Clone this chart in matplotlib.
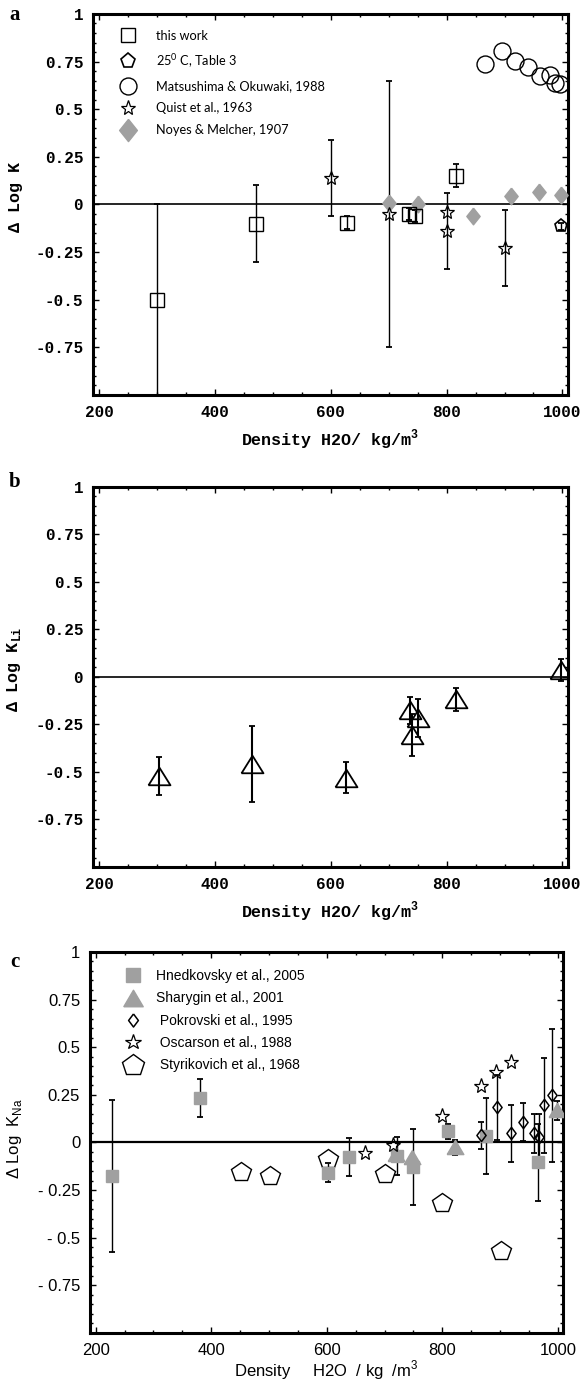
import numpy as np
import matplotlib
matplotlib.use("Agg")
import matplotlib.pyplot as plt
from matplotlib.lines import Line2D
from matplotlib.ticker import MultipleLocator

plt.rcParams['mathtext.fontset'] = 'custom'
plt.rcParams['mathtext.rm'] = 'Lato'
plt.rcParams['mathtext.tt'] = 'Liberation Mono:bold'
plt.rcParams['mathtext.sf'] = 'Liberation Sans'

# ---- panel a : delta log K ----
work_x = [300, 471, 628, 735, 746, 817]
work_y = [-0.50, -0.10, -0.095, -0.05, -0.06, 0.15]
work_lo = [0.6, 0.2, 0.035, 0.03, 0.03, 0.06]
work_hi = [0.5, 0.2, 0.035, 0.03, 0.03, 0.06]

t3_x = [997]
t3_y = [-0.115]
t3_err = [0.02]

mats_x = [867, 895, 918, 940, 961, 978, 987, 996]
mats_y = [0.735, 0.805, 0.755, 0.72, 0.675, 0.68, 0.64, 0.63]

quist_x = [600, 700, 800, 800, 900]
quist_y = [0.14, -0.05, -0.04, -0.14, -0.23]
quist_err = [0.2, 0.7, 0.0, 0.2, 0.2]

noyes_x = [700, 751, 845, 912, 959, 997]
noyes_y = [0.01, 0.0, -0.063, 0.047, 0.068, 0.052]

# ---- panel b : delta log K_Li ----
li_x = [303, 463, 626, 737, 741, 751, 817, 997]
li_y = [-0.52, -0.458, -0.53, -0.175, -0.305, -0.215, -0.118, 0.038]
li_err = [0.1, 0.2, 0.08, 0.07, 0.11, 0.1, 0.06, 0.057]

# ---- panel c : delta log K_Na ----
hned_x = [228, 381, 602, 638, 722, 749, 810, 875, 966]
hned_y = [-0.175, 0.235, -0.16, -0.075, -0.07, -0.13, 0.058, 0.035, -0.105]
hned_err = [0.4, 0.1, 0.05, 0.1, 0.1, 0.2, 0.04, 0.2, 0.2]

shar_x = [720, 747, 822, 999]
shar_y = [-0.06, -0.075, -0.025, 0.17]
shar_err = [0.0, 0.0, 0.04, 0.05]

pok_x = [867, 894, 919, 940, 959, 968, 977, 990]
pok_y = [0.037, 0.184, 0.047, 0.107, 0.047, 0.028, 0.195, 0.247]
pok_err = [0.07, 0.17, 0.15, 0.1, 0.1, 0.12, 0.25, 0.35]

osc_x = [667, 714, 800, 867, 893, 919]
osc_y = [-0.056, -0.016, 0.137, 0.295, 0.37, 0.42]

sty_x = [452, 501, 602, 700, 800, 901]
sty_y = [-0.156, -0.174, -0.085, -0.165, -0.32, -0.57]

xticks = [200, 400, 600, 800, 1000]
yticks = [1, 0.75, 0.5, 0.25, 0, -0.25, -0.5, -0.75]
ylabels_ab = ['1', '0.75', '0.5', '0.25', '0', '-0.25', '-0.5', '-0.75']
ylabels_c = ['1', '0.75', '0.5', '0.25', '0', '- 0.25', '- 0.5', '- 0.75']

GRAY = '#a0a0a0'
MONO = 'Liberation Mono'
SANS = 'Liberation Sans'

tri_b = [(-1, -0.8), (1, -0.8), (0, 0.8), (-1, -0.8)]
tri_c = [(-1, -0.85), (1, -0.85), (0, 0.85), (-1, -0.85)]
dia_a = [(0, 1), (0.8, 0), (0, -1), (-0.8, 0), (0, 1)]
dia_c = [(0, 1), (0.75, 0), (0, -1), (-0.75, 0), (0, 1)]


def frame(ax, xlim, ylabels, family, weight, size, zlw=1.2):
    ax.set_xlim(*xlim)
    ax.set_ylim(-1, 1)
    ax.set_xticks(xticks)
    ax.set_xticklabels([str(v) for v in xticks], family=family, weight=weight, size=size)
    ax.set_yticks(yticks)
    ax.set_yticklabels(ylabels, family=family, weight=weight, size=size)
    ax.xaxis.set_minor_locator(MultipleLocator(50))
    ax.yaxis.set_minor_locator(MultipleLocator(0.05))
    ax.tick_params(which='both', direction='in', top=True, right=True, width=1)
    ax.tick_params(which='major', length=4, pad=7)
    ax.tick_params(which='minor', length=2)
    for s in ax.spines.values():
        s.set_linewidth(2.2)
    ax.axhline(0, color='k', lw=zlw, zorder=1)


def bars(ax, x, y, lo, hi, lw=1.0):
    x = np.asarray(x, float)
    y = np.asarray(y, float)
    lo = np.asarray(lo, float)
    hi = np.asarray(hi, float)
    m = (lo + hi) > 0
    ax.errorbar(x[m], y[m], yerr=[lo[m], hi[m]], fmt='none', ecolor='k',
                elinewidth=lw, capsize=2, capthick=1.3, zorder=2)


fig = plt.figure(figsize=(5.84, 13.83), dpi=100)

# ---------------- a ----------------
ax = fig.add_axes([0.159, 0.7144, 0.814, 0.2755])
frame(ax, (189, 1010), ylabels_ab, MONO, 'bold', 11.5)
bars(ax, work_x, work_y, work_lo, work_hi)
bars(ax, quist_x, quist_y, quist_err, quist_err)
bars(ax, t3_x, t3_y, t3_err, t3_err)
ax.plot(noyes_x, noyes_y, ls='none', marker=dia_a, ms=12, mfc=GRAY, mec=GRAY, zorder=3)
ax.plot(work_x, work_y, ls='none', marker='s', ms=9.4, mfc='none', mec='k', mew=1, zorder=4)
ax.plot(t3_x, t3_y, ls='none', marker='p', ms=9.5, mfc='none', mec='k', mew=1.2, zorder=4)
ax.plot(mats_x, mats_y, ls='none', marker='o', ms=12.2, mfc='none', mec='k', mew=1, zorder=4)
ax.plot(quist_x, quist_y, ls='none', marker='*', ms=10.4, mfc='none', mec='k', mew=0.9, zorder=4)
ax.set_ylabel('Δ Log K', family=MONO, weight='bold', size=12)
ax.yaxis.set_label_coords(-0.148, 0.52)
ax.set_xlabel('Density H2O/ kg/m$^{\\mathtt{3}}$', family=MONO, weight='bold', size=12)
ax.xaxis.set_label_coords(0.5, -0.085)

h_a = [
    Line2D([], [], ls='none', marker='s', ms=9.4, mfc='none', mec='k', mew=1),
    Line2D([], [], ls='none', marker='p', ms=11, mfc='none', mec='k', mew=1.2),
    Line2D([], [], ls='none', marker='o', ms=12.2, mfc='none', mec='k', mew=1),
    Line2D([], [], ls='none', marker='*', ms=11, mfc='none', mec='k', mew=0.9),
    Line2D([], [], ls='none', marker=dia_a, ms=16, mfc=GRAY, mec=GRAY),
]
l_a = ['this work', '25$^{0}$ C, Table 3', 'Matsushima & Okuwaki, 1988',
       'Quist et al., 1963', 'Noyes & Melcher, 1907']
ax.legend(h_a, l_a, loc='upper left', bbox_to_anchor=(0.053, 0.958), frameon=False,
          prop={'family': 'Lato', 'size': 9.2}, handlelength=1.5, handletextpad=1.45,
          labelspacing=0.8, borderpad=0, borderaxespad=0)

# ---------------- b ----------------
ax = fig.add_axes([0.159, 0.3731, 0.814, 0.2748])
frame(ax, (189, 1010), ylabels_ab, MONO, 'bold', 11.5)
bars(ax, li_x, li_y, li_err, li_err, lw=1.5)
ax.plot(li_x, li_y, ls='none', marker=tri_b, ms=15.8, mfc='none', mec='k', mew=1.3, zorder=4)
ax.set_ylabel('Δ Log K$_{\\mathtt{Li}}$', family=MONO, weight='bold', size=12)
ax.yaxis.set_label_coords(-0.148, 0.52)
ax.set_xlabel('Density H2O/ kg/m$^{\\mathtt{3}}$', family=MONO, weight='bold', size=12)
ax.xaxis.set_label_coords(0.5, -0.085)

# ---------------- c ----------------
ax = fig.add_axes([0.154, 0.0362, 0.810, 0.2755])
frame(ax, (190, 1009), ylabels_c, SANS, 'normal', 12, zlw=1.6)
bars(ax, hned_x, hned_y, hned_err, hned_err)
bars(ax, shar_x, shar_y, shar_err, shar_err)
bars(ax, pok_x, pok_y, pok_err, pok_err)
ax.plot(sty_x, sty_y, ls='none', marker='p', ms=14.5, mfc='none', mec='k', mew=1, zorder=3)
ax.plot(hned_x, hned_y, ls='none', marker='s', ms=8.6, mfc=GRAY, mec=GRAY, zorder=4)
ax.plot(shar_x, shar_y, ls='none', marker=tri_c, ms=12, mfc=GRAY, mec=GRAY, zorder=4)
ax.plot(pok_x, pok_y, ls='none', marker=dia_c, ms=8.8, mfc='none', mec='k', mew=1.1, zorder=4)
ax.plot(osc_x, osc_y, ls='none', marker='*', ms=11, mfc='none', mec='k', mew=0.9, zorder=4)
ax.set_ylabel('Δ Log  K$_{\\mathsf{Na}}$', family=SANS, size=12)
ax.yaxis.set_label_coords(-0.14, 0.51)
ax.set_xlabel('Density     H2O  / kg  /m$^{\\mathsf{3}}$', family=SANS, size=12)
ax.xaxis.set_label_coords(0.5, -0.068)

h_c = [
    Line2D([], [], ls='none', marker='s', ms=9.4, mfc=GRAY, mec=GRAY),
    Line2D([], [], ls='none', marker=tri_c, ms=14, mfc=GRAY, mec=GRAY),
    Line2D([], [], ls='none', marker=dia_c, ms=9.4, mfc='none', mec='k', mew=1.1),
    Line2D([], [], ls='none', marker='*', ms=11.5, mfc='none', mec='k', mew=0.9),
    Line2D([], [], ls='none', marker='p', ms=16, mfc='none', mec='k', mew=1),
]
l_c = ['Hnedkovsky et al., 2005', 'Sharygin et al., 2001', ' Pokrovski et al., 1995',
       ' Oscarson et al., 1988', ' Styrikovich et al., 1968']
ax.legend(h_c, l_c, loc='upper left', bbox_to_anchor=(0.073, 0.955), frameon=False,
          prop={'family': SANS, 'size': 10}, handlelength=1.2, handletextpad=1.1,
          labelspacing=0.6, borderpad=0, borderaxespad=0)

for lab, ypx in (('a', 15), ('b', 482), ('c', 962)):
    fig.text(15 / 584, 1 - ypx / 1383, lab, family='Liberation Serif', weight='bold',
             size=15, ha='center', va='center')

fig.savefig('out.png', dpi=100)
